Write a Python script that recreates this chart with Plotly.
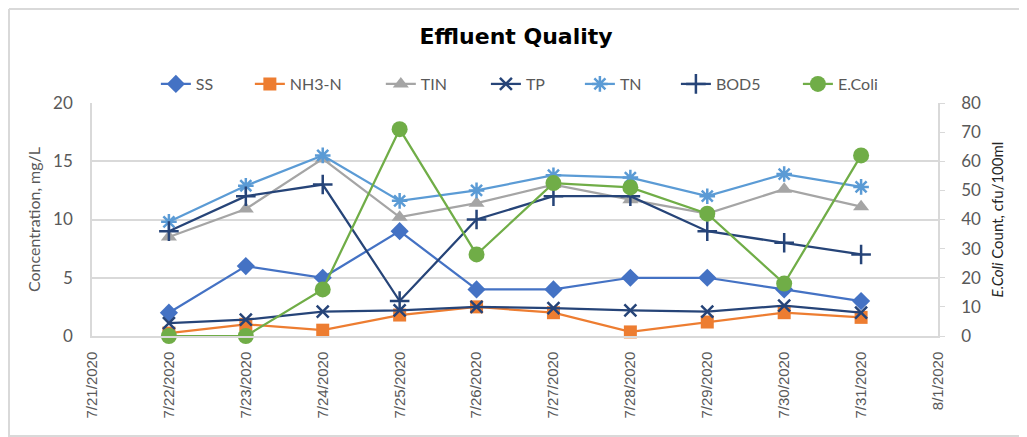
import plotly.graph_objects as go

dates = ["2020-07-22", "2020-07-23", "2020-07-24", "2020-07-25", "2020-07-26",
         "2020-07-27", "2020-07-28", "2020-07-29", "2020-07-30", "2020-07-31"]
ss = [2, 6, 5, 9, 4, 4, 5, 5, 4, 3]
nh3n = [0.25, 1.0, 0.5, 1.8, 2.5, 2.0, 0.35, 1.2, 2.0, 1.6]
tin = [8.5, 10.9, 15.2, 10.2, 11.4, 13.0, 11.7, 10.5, 12.6, 11.1]
tp = [1.1, 1.4, 2.1, 2.2, 2.5, 2.4, 2.2, 2.1, 2.6, 2.0]
tn = [9.8, 12.9, 15.5, 11.6, 12.5, 13.8, 13.6, 12.0, 13.9, 12.8]
bod5 = [9, 12, 13, 3, 10, 12, 12, 9, 8, 7]
ecoli = [0, 0, 16, 71, 28, 52.5, 51, 42, 18, 62]

grid = "#D9D9D9"
tickc = "#595959"

# legend entry left positions (paper x)
legend_x = [0.0755, 0.1866, 0.3414, 0.4656, 0.5767, 0.6902, 0.8344]

fig = go.Figure()

def add(i, name, y, color, symbol, size, lw_marker=0, yaxis="y"):
    lname = "legend" if i == 0 else f"legend{i + 1}"
    fig.add_trace(go.Scatter(
        x=dates, y=y, name=name, mode="lines+markers", yaxis=yaxis,
        legend=lname, showlegend=True, cliponaxis=False,
        line=dict(color=color, width=2.25),
        marker=dict(symbol=symbol, size=size, color=color,
                    line=dict(color=color, width=lw_marker)),
    ))

add(0, "SS", ss, "#4472C4", "diamond", 14)
add(1, "NH3-N", nh3n, "#ED7D31", "square", 13)
add(2, "TIN", tin, "#A5A5A5", "triangle-up", 14)
add(3, "TP", tp, "#264478", "x-thin", 12, lw_marker=2.5)
add(4, "TN", tn, "#5B9BD5", "asterisk", 13, lw_marker=2.5)
add(5, "BOD5", bod5, "#264478", "cross-thin", 14, lw_marker=2.5)
add(6, "E.Coli", ecoli, "#70AD47", "circle", 16, yaxis="y2")

legends = {}
for i, lx in enumerate(legend_x):
    key = "legend" if i == 0 else f"legend{i + 1}"
    legends[key] = dict(orientation="h", x=lx, xanchor="left", y=1.0815,
                        yanchor="middle", font=dict(size=16, color=tickc),
                        bgcolor="rgba(0,0,0,0)", visible=True)

fig.update_layout(
    width=1027, height=437,
    showlegend=True,
    margin=dict(l=84, r=97, t=95, b=109),
    paper_bgcolor="white", plot_bgcolor="white",
    font=dict(family="Lato, Liberation Sans, sans-serif", color=tickc, size=14),
    title=dict(text="<b>Effluent Quality</b>", xref="container", x=0.4947,
               xanchor="center", yref="container", y=0.936, yanchor="middle",
               font=dict(family="DejaVu Sans, sans-serif", size=22, color="#000000")),
    xaxis=dict(type="date", range=["2020-07-21", "2020-08-01"],
               dtick=86400000, tick0="2020-07-21", tickformat="%-m/%-d/%Y",
               tickangle=-90, ticks="", ticklabelstandoff=8,
               showgrid=False, showline=True, linecolor=grid, linewidth=1.5,
               tickfont=dict(family="Liberation Sans Narrow, Liberation Sans, sans-serif",
                             size=15, color=tickc)),
    yaxis=dict(range=[0, 20], dtick=5, showgrid=True, gridcolor=grid, gridwidth=1.5,
               showline=True, linecolor=grid, linewidth=1.5, zeroline=False,
               ticks="", ticklabelstandoff=14, tickfont=dict(size=17, color=tickc),
               title=dict(text="Concentration, mg/L", font=dict(size=16, color=tickc),
                          standoff=9)),
    yaxis2=dict(range=[0, 80], dtick=10, overlaying="y", side="right",
                showgrid=False, showline=True, linecolor=grid, linewidth=1.5,
                zeroline=False, ticks="outside", ticklen=5, tickcolor=grid,
                ticklabelstandoff=13, tickfont=dict(size=17, color=tickc),
                title=dict(text="<i>E.Coli</i> Count, cfu/100ml",
                           font=dict(size=15, color="#262626"), standoff=12)),
    shapes=[
        dict(type="line", xref="paper", yref="paper",
             x0=-83 / 846, x1=-83 / 846, y0=-108 / 233, y1=1 + 94 / 233,
             line=dict(color=grid, width=2)),
        dict(type="line", xref="paper", yref="paper",
             x0=-83 / 846, x1=1.2, y0=1 + 94 / 233, y1=1 + 94 / 233,
             line=dict(color=grid, width=2)),
        dict(type="line", xref="paper", yref="paper",
             x0=-83 / 846, x1=1.2, y0=-100 / 233, y1=-100 / 233,
             line=dict(color=grid, width=2)),
    ],
    **legends,
)

fig.write_html("out.html")
